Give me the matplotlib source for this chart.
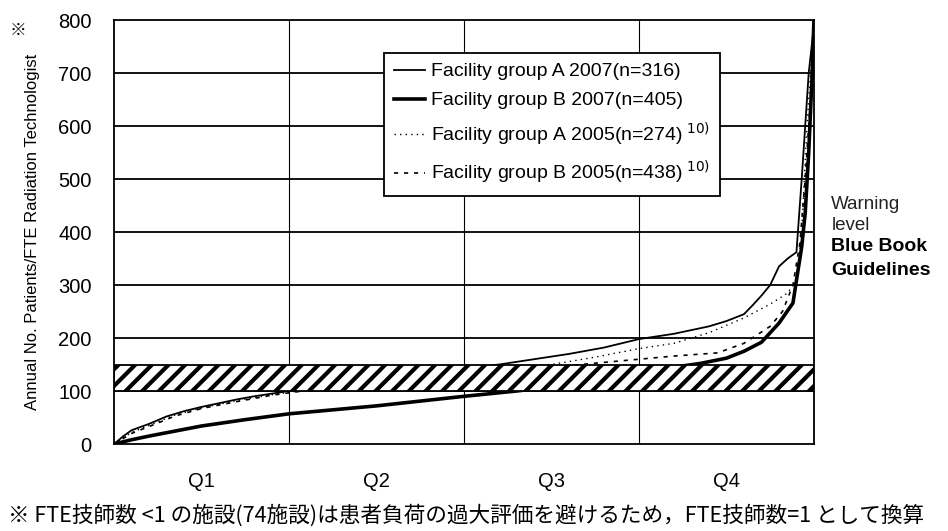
import matplotlib
matplotlib.use("Agg")
import matplotlib.pyplot as plt
from matplotlib.patches import Rectangle

plt.rcParams['font.family'] = ['Liberation Sans', 'Noto Sans CJK JP', 'DejaVu Sans']
plt.rcParams['hatch.linewidth'] = 3.0

# ---- data (x in quartile units 0..4, y = annual patients / FTE technologist) ----
x_a07 = [0, 0.05, 0.1, 0.2, 0.3, 0.4, 0.5, 0.6, 0.7, 0.8, 0.9, 1.0, 1.2, 1.5, 1.8, 2.0,
         2.2, 2.4, 2.6, 2.8, 3.0, 3.2, 3.4, 3.5, 3.6, 3.65, 3.7, 3.75, 3.8, 3.85, 3.9,
         3.93, 3.97, 4.0]
y_a07 = [0, 14, 26, 38, 52, 62, 70, 77, 84, 90, 95, 100, 110, 122, 135, 142,
         150, 160, 170, 182, 198, 208, 222, 232, 245, 262, 280, 300, 335, 350, 362,
         500, 700, 790]

x_b07 = [0, 0.1, 0.2, 0.5, 0.75, 1.0, 1.5, 2.0, 2.3, 2.5, 3.0, 3.2, 3.35, 3.5, 3.6,
         3.7, 3.8, 3.88, 3.9, 3.93, 3.95, 3.97, 3.99, 4.0]
y_b07 = [0, 8, 15, 34, 46, 57, 72, 90, 100, 108, 135, 145, 152, 162, 175,
         192, 228, 266, 309, 372, 436, 550, 700, 800]

x_a05 = [0, 0.1, 0.2, 0.35, 0.5, 0.7, 0.9, 1.1, 1.5, 2.0, 2.5, 2.75, 3.0, 3.2, 3.4,
         3.6, 3.75, 3.85, 3.9, 3.93, 3.96, 4.0]
y_a05 = [0, 22, 35, 55, 68, 82, 93, 102, 118, 135, 150, 164, 180, 190, 210,
         238, 264, 285, 310, 400, 600, 800]

x_b05 = [0, 0.1, 0.2, 0.35, 0.5, 0.7, 0.9, 1.1, 1.5, 2.0, 2.5, 3.0, 3.2, 3.45, 3.6,
         3.75, 3.82, 3.88, 3.92, 3.95, 3.98, 4.0]
y_b05 = [0, 20, 33, 53, 67, 80, 92, 101, 115, 130, 145, 160, 166, 172, 190,
         222, 250, 300, 380, 500, 650, 800]

labels = ["Facility group A 2007(n=316)",
          "Facility group B 2007(n=405)",
          "Facility group A 2005(n=274)$^{\\ 10)}$",
          "Facility group B 2005(n=438)$^{\\ 10)}$"]

yticks = [0, 100, 200, 300, 400, 500, 600, 700, 800]
quarters = ["Q1", "Q2", "Q3", "Q4"]
blue_book = (100, 150)
warning_level = 200

fig = plt.figure(figsize=(9.48, 5.31), dpi=100)
ax = fig.add_axes([0.1203, 0.1638, 0.7383, 0.7985])

ax.set_xlim(0, 4)
ax.set_ylim(0, 800)

# grid
for v in yticks[1:-1]:
    ax.axhline(v, color='black', lw=1.3, zorder=1)
for q in [1, 2, 3]:
    ax.axvline(q, color='black', lw=0.8, zorder=1)

# curves
l1, = ax.plot(x_a07, y_a07, color='black', lw=1.3, zorder=3)
l2, = ax.plot(x_b07, y_b07, color='black', lw=2.6, zorder=3)
l3, = ax.plot(x_a05, y_a05, color='black', lw=1.0, ls=(0, (1, 3)), zorder=3)
l4, = ax.plot(x_b05, y_b05, color='black', lw=1.2, ls=(0, (2.5, 3.5)), zorder=3)

# hatched Blue Book band
ax.add_patch(Rectangle((0, blue_book[0]), 4, blue_book[1] - blue_book[0],
                       facecolor='white', edgecolor='black', hatch='//',
                       lw=1.3, zorder=4))

ax.set_yticks(yticks)
ax.set_yticklabels([str(v) for v in yticks], fontsize=14.5)
ax.set_xticks([0.5, 1.5, 2.5, 3.5])
ax.set_xticklabels(quarters, fontsize=14.5)
ax.tick_params(axis='both', length=0)
ax.tick_params(axis='y', pad=16)
ax.tick_params(axis='x', pad=20)
for s in ax.spines.values():
    s.set_color('black')
    s.set_linewidth(1.3)
    s.set_zorder(5)

ax.set_ylabel("Annual No. Patients/FTE Radiation Technologist", fontsize=12, labelpad=13)

leg = ax.legend([l1, l2, l3, l4], labels, loc='upper left',
                bbox_to_anchor=(0.386, 0.922), fontsize=14, frameon=True,
                fancybox=False, edgecolor='black', handlelength=1.6,
                handletextpad=0.3, borderpad=0.5, labelspacing=0.58,
                borderaxespad=0, framealpha=1)
leg.get_frame().set_linewidth(1.3)
leg.set_zorder(6)

fig.text(0.877, 0.614, "Warning", fontsize=13.5, color='#222222', va='center')
fig.text(0.877, 0.576, "level", fontsize=13.5, color='#222222', va='center')
fig.text(0.877, 0.535, "Blue Book", fontsize=14, fontweight='bold', va='center')
fig.text(0.877, 0.490, "Guidelines", fontsize=14, fontweight='bold', va='center')

fig.text(0.010, 0.935, "※", fontsize=12, family=['Noto Sans CJK JP', 'DejaVu Sans'])

fig.text(0.008, 0.018,
         "※ FTE技師数 <1 の施設(74施設)は患者負荷の過大評価を避けるため，FTE技師数=1 として換算",
         fontsize=15.6, family=['Noto Sans CJK JP', 'DejaVu Sans'])

fig.savefig("out.png", dpi=100, facecolor='white')
